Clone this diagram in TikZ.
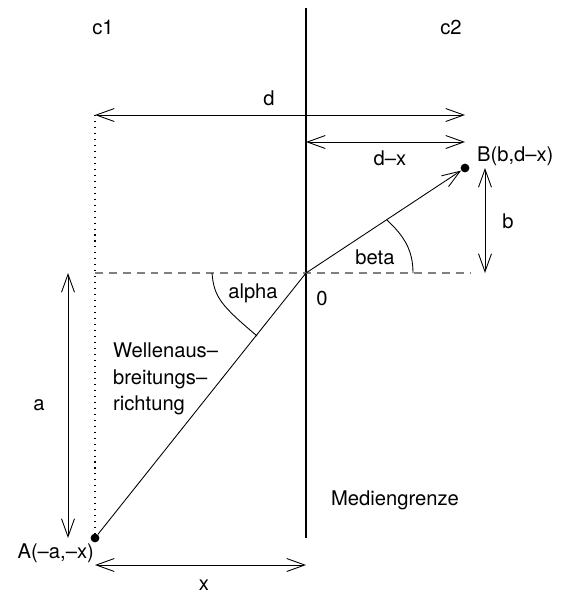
\documentclass[tikz,border=0pt]{standalone}
\usepackage{fontspec}
\setmainfont{TeX Gyre Heros}
\usepackage{tikz}
\usetikzlibrary{arrows.meta}

\begin{document}
\begin{tikzpicture}[
    x=0.02cm, y=-0.02cm,
    barb/.tip={Straight Barb[length=3.6mm, width=2.6mm]},
    dim/.style={barb-barb, line width=0.5pt},
    ray/.style={-barb, line width=0.5pt},
    grenze/.style={line width=1.2pt},
    hilfs/.style={gray, line width=0.6pt, dash pattern=on 4.5pt off 3.4pt},
    punkt/.style={circle, fill=black, inner sep=0pt, minimum size=5pt},
    lbl/.style={font=\fontsize{11.5}{15}\selectfont, inner sep=1pt}
  ]
    \useasboundingbox (0,0) rectangle (566,593);
    % points
    \node[punkt] (A) at (95,538) {};
    \node[punkt] (B) at (465,168) {};
    \coordinate (O) at (306,273);
    \coordinate (top) at (306,8);
    \coordinate (bot) at (306,538);
    \coordinate (dl) at (95,115);
    \coordinate (dr) at (465,115);
    \coordinate (dxl) at (306,142);
    \coordinate (dxr) at (465,142);
    \coordinate (hl) at (95,273);
    \coordinate (hr) at (470,273);
    \coordinate (bt) at (485,168);
    \coordinate (bb) at (485,273);
    \coordinate (at) at (68,273);
    \coordinate (ab) at (68,538);
    \coordinate (xl) at (95,565);
    \coordinate (xr) at (306,565);
    % labels
    \node[lbl] (c1) at (103,27) {c1};
    \node[lbl] (c2) at (451,27) {c2};
    \node[lbl] (d) at (269,98) {d};
    \node[lbl] (dx) at (390,158) {d–x};
    \node[lbl, anchor=west] (Blbl) at (475,156) {B(b,d–x)};
    \node[lbl] (b) at (508,221) {b};
    \node[lbl] (beta) at (375,257) {beta};
    \node[lbl] (alpha) at (253,293) {alpha};
    \node[lbl] (null) at (322,298) {0};
    \node[lbl] (a) at (39,405) {a};
    \node[lbl, anchor=west, align=left] (welle) at (111,379) {Wellenaus–\\breitungs–\\richtung};
    \node[lbl] (medien) at (395,500) {Mediengrenze};
    \node[lbl, anchor=east] (Albl) at (96,553) {A(–a,–x)};
    \node[lbl] (x) at (204,585) {x};
    % lines
    \draw[grenze] (top) -- (bot);
    \draw[hilfs] (hl) -- (hr);
    \draw[line width=0.6pt, dash pattern=on 0.6pt off 2.8pt] (dl) -- (A);
    \draw[dim] (dl) -- (dr);
    \draw[dim] (dxl) -- (dxr);
    \draw[dim] (bt) -- (bb);
    \draw[dim] (at) -- (ab);
    \draw[dim] (xl) -- (xr);
    \draw[line width=0.5pt] (A) -- (O);
    \draw[ray] (O) -- (B);
    % angles
    \draw[line width=0.5pt] (212,273) .. controls (214,298) and (222,306) .. (257,336);
    \draw[line width=0.5pt] (387,220) .. controls (404,236) and (413,250) .. (413,273);
  \end{tikzpicture}
\end{document}
